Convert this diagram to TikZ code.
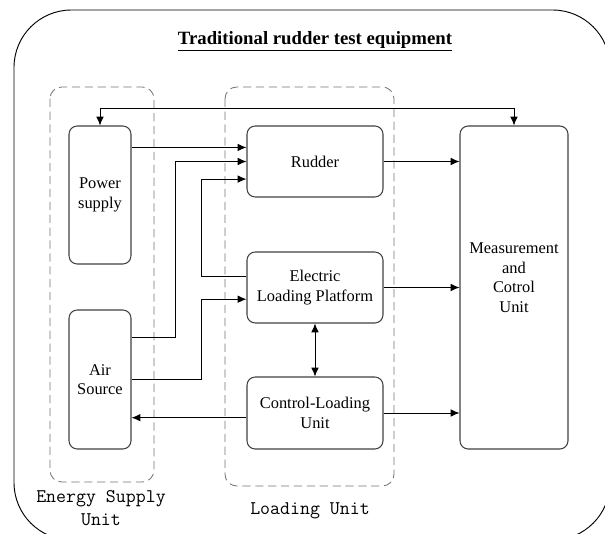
\documentclass[tikz,border=0pt]{standalone}
\usepackage{fontspec}
\setmainfont{Liberation Serif}
\usetikzlibrary{arrows.meta}

\newcommand{\labelfont}{\ttfamily\addfontfeatures{FakeStretch = 0.89, FakeBold = 2.5}}

\tikzset{
	block/.style = {draw = black!75, line width = 0.9pt, rounded corners = 7pt, align = center,
		font = \fontsize{14}{16.8}\selectfont},
	group/.style = {draw = black!55, line width = 0.7pt, dash pattern = on 7pt off 4pt, rounded corners = 10pt},
	unitlabel/.style = {align = center, font = \labelfont\fontsize{16.5}{19.6}\selectfont}
}

\begin{document}
\begin{tikzpicture}[x = 0.03cm, y = -0.03cm, > = {Latex[length = 7.5pt, width = 6.5pt]}]

	\useasboundingbox (0, 0) rectangle (605, 534);

	% Outer frame and heading
	
	\draw [line width = 0.8pt, rounded corners = 49pt] (14, 10) rectangle (610, 540);
	\node (title) at (315, 41) {\fontsize{16}{19}\selectfont\bfseries\underline{Traditional rudder test equipment}};

	% Dashed groups
	
	\draw [group] (50, 87) rectangle (154, 482);
	\draw [group] (225, 87) rectangle (394, 486);
	\node [unitlabel] (energylabel) at (101, 508) {Energy Supply\\Unit};
	\node [unitlabel] (loadinglabel) at (310, 511) {Loading Unit};

	% Blocks
	
	\node [block, minimum width = 1.86cm, minimum height = 4.14cm] (power) at (100, 195) {Power\\supply};
	\node [block, minimum width = 1.86cm, minimum height = 4.17cm] (air) at (100, 379.5) {Air\\Source};
	\node [block, minimum width = 4.08cm, minimum height = 2.13cm] (rudder) at (315, 161.5) {Rudder};
	\node [block, minimum width = 4.08cm, minimum height = 2.13cm] (elec) at (315, 287.5) {Electric\\Loading Platform};
	\node [block, minimum width = 4.08cm, minimum height = 2.16cm] (ctrl) at (315, 413) {Control-Loading\\Unit};
	\node [block, minimum width = 3.24cm, minimum height = 9.69cm, text depth = 17pt] (meas) at (514, 287.5) {Measurement\\and\\Cotrol\\Unit};

	% Ports on the block sides
	
	\coordinate (r1) at ([yshift = 12pt]rudder.west);
	\coordinate (r3) at ([yshift = -15pt]rudder.west);
	\coordinate (a1) at ([yshift = 36pt]air.east);
	\coordinate (e1) at ([yshift = 9pt]elec.west);
	\coordinate (e2) at ([yshift = -10pt]elec.west);
	\coordinate (c1) at ([yshift = -4pt]ctrl.west);

	% Supply lines
	
	\draw [line width = 0.8pt, ->] (power.east |- r1) -- (r1);
	\draw [line width = 0.8pt, ->] (a1) -- ++(44, 0) |- (rudder.west);
	\draw [line width = 0.8pt, ->] (e1) -- ++(-45, 0) |- (r3);
	\draw [line width = 0.8pt, ->] (air.east) -- ++(70, 0) |- (e2);
	\draw [line width = 0.8pt, ->] (c1) -- (c1 -| air.east);
	\draw [line width = 0.8pt, <->] (elec.south) -- (ctrl.north);

	% Measurement lines
	
	\draw [line width = 0.8pt, ->] (rudder.east) -- (rudder.east -| meas.west);
	\draw [line width = 0.8pt, ->] (elec.east) -- (elec.east -| meas.west);
	\draw [line width = 0.8pt, ->] (ctrl.east) -- (ctrl.east -| meas.west);
	\draw [line width = 0.8pt, <->] (power.north) -- ++(0, -17) -| (meas.north);

\end{tikzpicture}
\end{document}
